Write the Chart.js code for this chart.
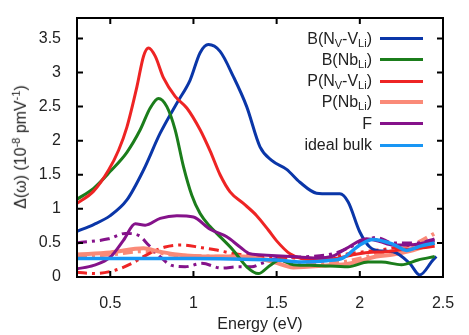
<!DOCTYPE html>
<html>
<head>
<meta charset="utf-8">
<script src="https://cdn.jsdelivr.net/npm/chart.js@4.4.1/dist/chart.umd.min.js"></script>
<style>
  html, body { margin: 0; padding: 0; background: #fff; }
  #wrap { position: relative; width: 469px; height: 335px; font-family: "Liberation Sans", Arial, sans-serif; color: #222; }
  #chart { position: absolute; left: 0; top: 0; }
  .ytitle { position: absolute; left: 20px; top: 147px; transform: translate(-50%, -50%) rotate(-90deg); font-size: 16px; white-space: nowrap; }
  .ytitle sup { font-size: 11px; }
  .lg-text { position: absolute; right: 97px; height: 20px; line-height: 20px; font-size: 16px; white-space: nowrap; text-align: right; }
  .lg-text sub { font-size: 11px; vertical-align: -3px; }
  .lg-line { position: absolute; left: 380px; width: 43px; }
</style>
</head>
<body>
<div id="wrap">
  <canvas id="chart" width="469" height="335"></canvas>
  <div class="ytitle">&Delta;(&omega;) (10<sup>-8</sup> pmV<sup>-1</sup>)</div>
</div>
<script>
// energy (eV), Delta (1e-8 pm/V) pairs
const bNvVli = [[0.3,0.67],[0.4,0.77],[0.5,0.9],[0.6,1.13],[0.7,1.57],[0.8,2.11],[0.9,2.55],[0.98,2.89],[1.04,3.29],[1.09,3.41],[1.16,3.31],[1.24,2.94],[1.32,2.5],[1.4,1.91],[1.47,1.71],[1.56,1.58],[1.64,1.39],[1.74,1.23],[1.82,1.22],[1.88,1.22],[1.93,1.1],[2.0,0.66],[2.06,0.44],[2.14,0.38],[2.2,0.37],[2.3,0.2],[2.36,0.03],[2.44,0.25],[2.46,0.3]];
const bNbLi = [[0.3,1.14],[0.4,1.3],[0.5,1.55],[0.6,1.83],[0.68,2.16],[0.74,2.48],[0.79,2.62],[0.84,2.5],[0.89,2.16],[0.94,1.62],[0.99,1.2],[1.04,0.93],[1.1,0.74],[1.14,0.64],[1.24,0.39],[1.32,0.15],[1.39,0.05],[1.46,0.17],[1.52,0.25],[1.6,0.18],[1.73,0.17],[1.93,0.15],[2.05,0.22],[2.13,0.22],[2.25,0.18],[2.35,0.25],[2.45,0.3]];
const pNvVli = [[0.3,1.08],[0.4,1.26],[0.49,1.57],[0.55,1.86],[0.6,2.2],[0.66,2.79],[0.7,3.24],[0.73,3.36],[0.77,3.24],[0.82,2.92],[0.89,2.65],[0.96,2.48],[1.04,2.16],[1.1,1.85],[1.16,1.5],[1.22,1.25],[1.3,1.08],[1.38,0.9],[1.45,0.69],[1.5,0.53],[1.58,0.34],[1.65,0.27],[1.75,0.25],[1.85,0.27],[1.95,0.32],[2.05,0.36],[2.15,0.37],[2.25,0.4],[2.35,0.42],[2.45,0.45]];
const pNbLi = [[0.3,0.33],[0.5,0.36],[0.7,0.42],[0.8,0.37],[0.9,0.33],[1.1,0.3],[1.3,0.3],[1.48,0.22],[1.6,0.14],[1.8,0.17],[1.94,0.2],[2.1,0.3],[2.2,0.33],[2.3,0.38],[2.45,0.5]];
const fCenter = [[0.3,0.12],[0.4,0.17],[0.5,0.29],[0.58,0.54],[0.65,0.78],[0.71,0.76],[0.8,0.86],[0.9,0.9],[1.0,0.88],[1.1,0.7],[1.2,0.59],[1.28,0.44],[1.34,0.34],[1.44,0.32],[1.6,0.3],[1.74,0.28],[1.84,0.31],[1.92,0.42],[2.04,0.56],[2.12,0.52],[2.2,0.47],[2.3,0.47],[2.45,0.54]];
const idealBulk = [[0.3,0.27],[0.6,0.27],[1.0,0.27],[1.3,0.26],[1.5,0.25],[1.65,0.22],[1.8,0.24],[1.9,0.28],[2.0,0.47],[2.08,0.55],[2.2,0.48],[2.28,0.39],[2.36,0.45],[2.45,0.5]];
// dash-dotted companions
const fDash = [[0.3,0.5],[0.49,0.56],[0.59,0.64],[0.67,0.61],[0.73,0.47],[0.79,0.32],[0.87,0.17],[0.95,0.15],[1.05,0.2],[1.17,0.13],[1.27,0.15],[1.35,0.15],[1.41,0.2],[1.5,0.27],[1.7,0.3],[1.85,0.35],[2.0,0.5],[2.1,0.58],[2.2,0.5],[2.35,0.5],[2.45,0.56]];
const pNvVliDash = [[0.3,0.07],[0.41,0.05],[0.53,0.1],[0.63,0.2],[0.73,0.34],[0.83,0.44],[0.93,0.47],[1.05,0.43],[1.13,0.4],[1.25,0.34],[1.41,0.3],[1.61,0.28],[1.77,0.27],[1.93,0.34],[2.13,0.4],[2.33,0.47],[2.45,0.48]];
const pNbLiDash = [[0.3,0.3],[0.5,0.33],[0.7,0.38],[0.9,0.32],[1.1,0.3],[1.3,0.29],[1.5,0.24],[1.7,0.2],[1.9,0.22],[2.1,0.33],[2.3,0.45],[2.45,0.64]];

const xTicks = [0.5, 1, 1.5, 2, 2.5];
const yTicks = [0, 0.5, 1, 1.5, 2, 2.5, 3, 3.5];

const legendNames = [
  'B(N<sub>V</sub>-V<sub>Li</sub>)',
  'B(Nb<sub>Li</sub>)',
  'P(N<sub>V</sub>-V<sub>Li</sub>)',
  'P(Nb<sub>Li</sub>)',
  'F',
  'ideal bulk'
];

const BLUE = '#0a36a8', GREEN = '#1b7d1b', RED = '#ee2424', SALMON = '#fa8a78', PURPLE = '#85128a', SKY = '#1896f4';

const pts = arr => arr.map(p => ({ x: p[0], y: p[1] }));
const solid = (data, color, width, order) => ({
  data: pts(data), borderColor: color, borderWidth: width, pointRadius: 0,
  cubicInterpolationMode: 'monotone', fill: false, order: order
});
const dashed = (data, color, width, order) => ({
  ...solid(data, color, width, order), borderDash: [10, 5, 3, 5]
});

const datasets = [
  dashed(fDash, PURPLE, 3, 8),
  dashed(pNvVliDash, RED, 3, 7),
  dashed(pNbLiDash, SALMON, 4, 9),
  solid(bNvVli, BLUE, 3, 5),
  solid(bNbLi, GREEN, 3, 4),
  solid(pNvVli, RED, 3, 3),
  solid(pNbLi, SALMON, 4, 6),
  solid(fCenter, PURPLE, 3, 2),
  solid(idealBulk, SKY, 3.5, 1)
];

// inward ticks on all four sides plus the box
const frame = {
  id: 'frame',
  afterDatasetsDraw(chart) {
    const { ctx, chartArea: a, scales } = chart;
    ctx.save();
    ctx.strokeStyle = '#000';
    ctx.lineWidth = 2;
    ctx.beginPath();
    xTicks.forEach(v => {
      const px = scales.x.getPixelForValue(v);
      ctx.moveTo(px, a.bottom); ctx.lineTo(px, a.bottom - 6);
      ctx.moveTo(px, a.top); ctx.lineTo(px, a.top + 6);
    });
    yTicks.forEach(v => {
      const py = scales.y.getPixelForValue(v);
      ctx.moveTo(a.left, py); ctx.lineTo(a.left + 6, py);
      ctx.moveTo(a.right, py); ctx.lineTo(a.right - 6, py);
    });
    ctx.stroke();
    ctx.strokeRect(a.left, a.top, a.right - a.left, a.bottom - a.top);
    ctx.restore();
  }
};

const font = { family: '"Liberation Sans", Arial, sans-serif', size: 16 };

new Chart(document.getElementById('chart'), {
  type: 'line',
  data: { datasets },
  options: {
    responsive: false,
    animation: false,
    layout: { padding: { top: 18, right: 26, left: 0, bottom: 0 } },
    plugins: { legend: { display: false }, tooltip: { enabled: false } },
    scales: {
      x: {
        type: 'linear', min: 0.3, max: 2.5,
        grid: { display: false }, border: { display: false },
        afterBuildTicks: s => { s.ticks = xTicks.map(v => ({ value: v })); },
        afterFit: s => { s.height = 58; },
        ticks: { font, color: '#222', padding: 9, callback: v => String(v) },
        title: { display: true, text: 'Energy (eV)', font, color: '#222', padding: { top: 4, bottom: 1 } }
      },
      y: {
        min: 0, max: 3.8,
        grid: { display: false }, border: { display: false },
        afterBuildTicks: s => { s.ticks = yTicks.map(v => ({ value: v })); },
        afterFit: s => { s.width = 77; },
        ticks: { font, color: '#222', padding: 8, callback: v => String(v) }
      }
    }
  },
  plugins: [frame]
});

// legend with subscripts, text right-aligned before the sample line
const legendColors = [BLUE, GREEN, RED, SALMON, PURPLE, SKY];
const wrap = document.getElementById('wrap');
legendNames.forEach((name, i) => {
  const yc = 38.5 + i * 21.3;
  const t = document.createElement('div');
  t.className = 'lg-text';
  t.style.top = (yc - 10) + 'px';
  t.innerHTML = name;
  wrap.appendChild(t);
  const l = document.createElement('div');
  l.className = 'lg-line';
  const w = legendColors[i] === SALMON ? 4 : 3;
  l.style.height = w + 'px';
  l.style.top = (yc - w / 2) + 'px';
  l.style.background = legendColors[i];
  wrap.appendChild(l);
});
</script>
</body>
</html>
